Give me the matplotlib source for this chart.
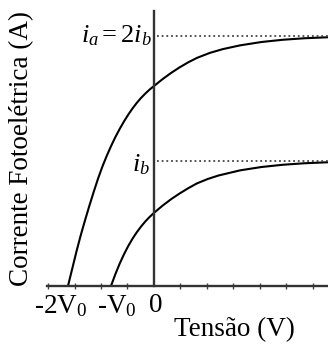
import matplotlib
matplotlib.use("Agg")
import matplotlib.pyplot as plt
import matplotlib.transforms as mtransforms
from matplotlib.ticker import MultipleLocator

plt.rcParams['font.family'] = 'Liberation Serif'
plt.rcParams['mathtext.fontset'] = 'custom'
plt.rcParams['mathtext.rm'] = 'Liberation Serif'
plt.rcParams['mathtext.it'] = 'Liberation Serif:italic'

# voltage in units of V0, current in units of i_b
volt_a = [-2.0, -1.9, -1.8, -1.7, -1.6, -1.5, -1.4, -1.3, -1.2, -1.1,
          -1.0, -0.9, -0.8, -0.7, -0.6, -0.5, -0.4, -0.3, -0.2, -0.1,
          0.0, 0.2, 0.4, 0.6, 0.8, 1.0, 1.3, 1.6, 2.0, 2.5, 3.0, 3.5, 4.05]
curr_a = [0.0, 0.14, 0.28, 0.41, 0.53, 0.645, 0.755, 0.86, 0.955, 1.04,
          1.118, 1.19, 1.255, 1.315, 1.37, 1.42, 1.465, 1.505, 1.54, 1.572,
          1.60, 1.655, 1.705, 1.75, 1.79, 1.825, 1.865, 1.895, 1.925, 1.952,
          1.97, 1.982, 1.99]

volt_b = [-1.0, -0.9, -0.8, -0.7, -0.6, -0.5, -0.4, -0.3, -0.2, -0.1,
          0.0, 0.2, 0.4, 0.6, 0.8, 1.0, 1.25, 1.5, 2.0, 2.5, 3.0, 3.5, 4.05]
curr_b = [0.0, 0.093, 0.177, 0.252, 0.319, 0.378, 0.43, 0.476, 0.517, 0.553,
          0.585, 0.643, 0.695, 0.741, 0.783, 0.821, 0.856, 0.884, 0.925, 0.952,
          0.97, 0.982, 0.99]

i_sat = [2.0, 1.0]
sat_labels = [r'$i_a{=}2i_b$', r'$i_b$']
tick_pos = [-2, -1, 0]
tick_labels = ['-2V$_0$', '-V$_0$', '0']
label_shift = [-7, 6, 2]   # px, horizontal nudge of each tick label

fig = plt.figure(figsize=(3.28, 3.48), dpi=100)
ax = fig.add_axes([47/328, 62/348, 281/328, 275/348])

ax.plot(volt_a, curr_a, color='black', lw=1.5)
ax.plot(volt_b, curr_b, color='black', lw=1.5)

# saturation levels
ax.hlines(i_sat, 0.07, 4.1, colors='#444444', lw=1.3, linestyles=(0, (1, 1.6)))
ax.text(-0.05, i_sat[0], sat_labels[0], ha='right', va='center', fontsize=19)
ax.text(-0.09, i_sat[1] - 0.03, sat_labels[1], ha='right', va='center', fontsize=19)

ax.set_xlim(-2.488, 4.047)
ax.set_ylim(0, 2.2)

for s in ['top', 'right']:
    ax.spines[s].set_visible(False)
ax.spines['left'].set_position(('data', 0))
for s in ['left', 'bottom']:
    ax.spines[s].set_color('#333333')
    ax.spines[s].set_linewidth(1.7)

ax.set_yticks([])
ax.set_xticks(tick_pos)
ax.set_xticklabels(tick_labels, fontsize=19.5)
ax.tick_params(axis='x', which='major', length=0, pad=5)
ax.xaxis.set_minor_locator(MultipleLocator(0.616))
ax.tick_params(axis='x', which='minor', direction='inout', length=4,
               width=1, color='#444444')
for lab, dx in zip(ax.get_xticklabels(), label_shift):
    lab.set_transform(lab.get_transform() +
                      mtransforms.ScaledTranslation(dx/100, 0, fig.dpi_scale_trans))

fig.text(234/328, 1 - 317/348, 'Tensão (V)', ha='center', va='top', fontsize=19.5)
fig.text(22/328, 1 - 148/348, 'Corrente Fotoelétrica (A)', ha='center',
         va='center', rotation=90, fontsize=19.5)

fig.savefig('out.png', dpi=100)
